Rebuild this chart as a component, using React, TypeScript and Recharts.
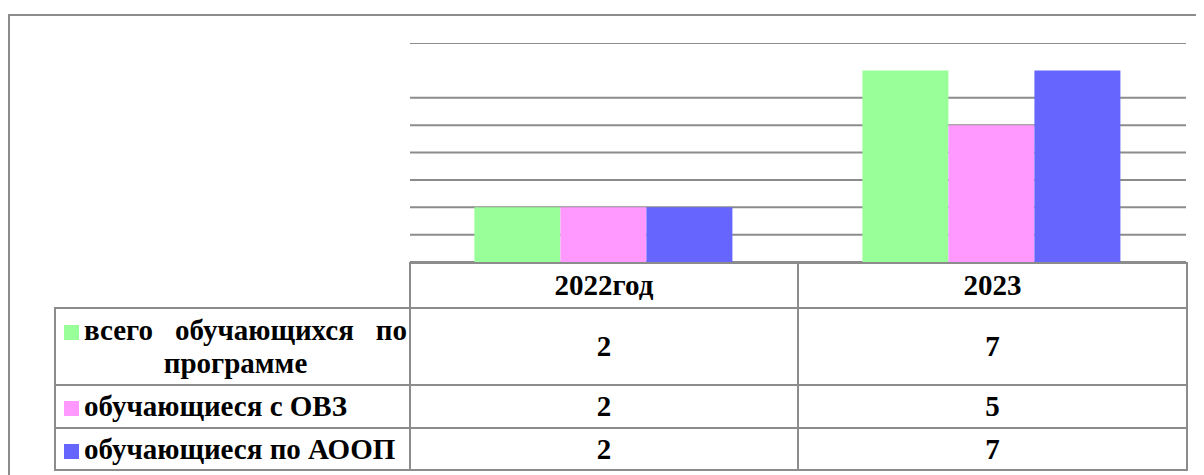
import React from "react";
import { BarChart, Bar, XAxis, YAxis, CartesianGrid } from "recharts";

const years = ["2022год", "2023"];
const seriesNames = ["всего обучающихся по программе", "обучающиеся с ОВЗ", "обучающиеся по АООП"];
const totalStudents = [2, 7];
const ovzStudents = [2, 5];
const aoopStudents = [2, 7];
const yTicks = [0, 1, 2, 3, 4, 5, 6, 7, 8];

const COLORS = ["#99ff99", "#ff99ff", "#6666ff"];
const KEYS = ["total", "ovz", "aoop"];
const seriesValues = [totalStudents, ovzStudents, aoopStudents];

const data = years.map((year, i) => ({
  year,
  total: totalStudents[i],
  ovz: ovzStudents[i],
  aoop: aoopStudents[i],
}));

const LINE = "#8c8c8c";
const BORDER = `2px solid ${LINE}`;

// data table geometry, relative to root
const colX = [46, 401, 789, 1178];
const headerTop = 254;
const rowTops = [299, 376, 419, 461];

const cellBase: React.CSSProperties = {
  position: "absolute",
  boxSizing: "border-box",
  display: "flex",
  alignItems: "center",
  border: BORDER,
  fontFamily: "Liberation Serif",
  fontWeight: "bold",
  fontSize: 29,
  color: "#000",
};

export default function App() {
  return (
    <div style={{ position: "relative", width: 1196, height: 467, overflow: "hidden" }}>
      <div
        style={{
          position: "absolute",
          left: 0,
          top: 6,
          width: 1300,
          height: 600,
          borderTop: BORDER,
          borderLeft: BORDER,
        }}
      />

      <div style={{ position: "absolute", left: 402, top: 35 }}>
        <BarChart
          width={776}
          height={219}
          data={data}
          margin={{ top: 0, right: 0, bottom: 0, left: 0 }}
          barCategoryGap="16.6%"
          barGap={0}
        >
          <CartesianGrid vertical={false} stroke={LINE} strokeWidth={2} />
          <XAxis dataKey="year" hide />
          <YAxis hide domain={[0, 8]} ticks={yTicks} />
          {KEYS.map((k, i) => (
            <Bar key={k} dataKey={k} fill={COLORS[i]} isAnimationActive={false} />
          ))}
        </BarChart>
      </div>

      {years.map((y, i) => (
        <div
          key={y}
          style={{
            ...cellBase,
            justifyContent: "center",
            left: colX[i + 1],
            top: headerTop,
            width: colX[i + 2] - colX[i + 1] + 2,
            height: rowTops[0] - headerTop + 2,
          }}
        >
          {y}
        </div>
      ))}
      {seriesNames.map((name, si) => (
        <React.Fragment key={name}>
          <div
            style={{
              ...cellBase,
              padding: "0 2px 0 8px",
              left: colX[0],
              top: rowTops[si],
              width: colX[1] - colX[0] + 2,
              height: rowTops[si + 1] - rowTops[si] + 2,
            }}
          >
            <span
              style={{
                display: "block",
                width: "100%",
                lineHeight: "33px",
                textAlign: "justify",
                textAlignLast: si === 0 ? "center" : "left",
                whiteSpace: si === 0 ? "normal" : "nowrap",
              }}
            >
              <span
                style={{
                  display: "inline-block",
                  width: 15,
                  height: 15,
                  background: COLORS[si],
                  marginRight: 5,
                }}
              />
              {name}
            </span>
          </div>
          {seriesValues[si].map((v, i) => (
            <div
              key={i}
              style={{
                ...cellBase,
                justifyContent: "center",
                left: colX[i + 1],
                top: rowTops[si],
                width: colX[i + 2] - colX[i + 1] + 2,
                height: rowTops[si + 1] - rowTops[si] + 2,
              }}
            >
              {v}
            </div>
          ))}
        </React.Fragment>
      ))}
    </div>
  );
}
